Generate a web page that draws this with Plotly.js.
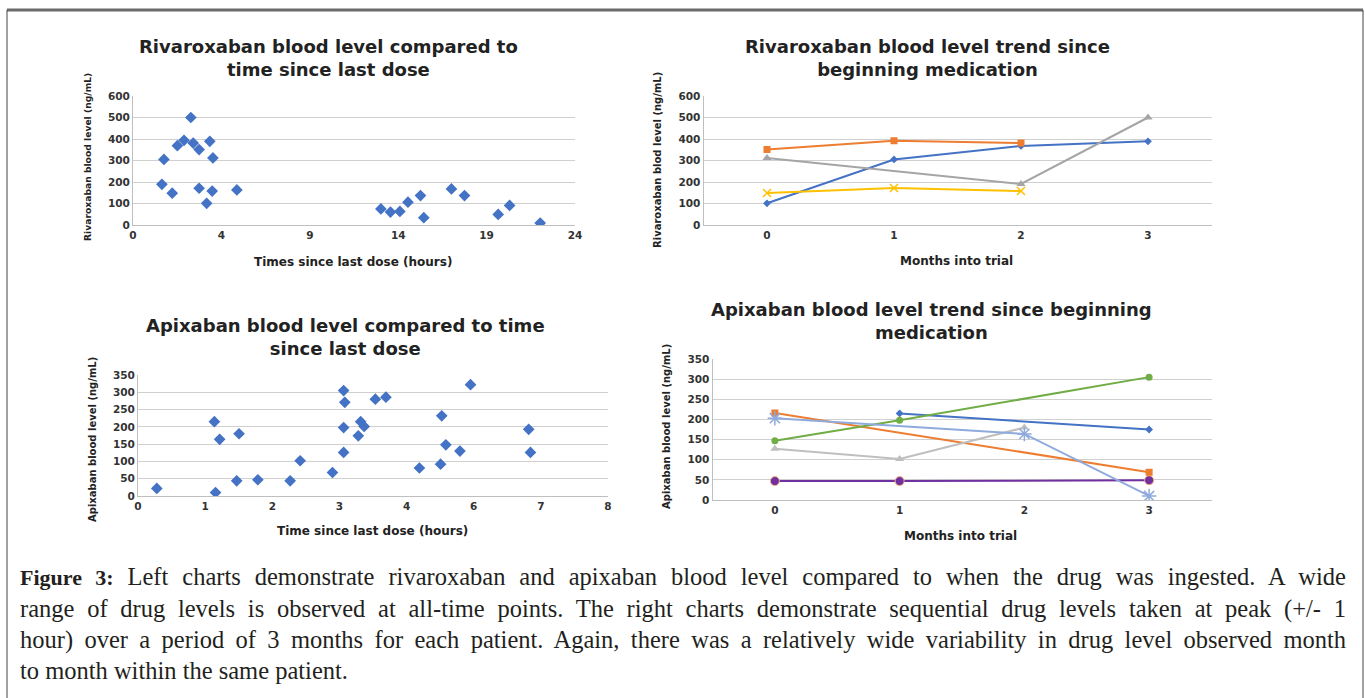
<!DOCTYPE html>
<html>
<head>
<meta charset="utf-8">
<script src="https://cdn.plot.ly/plotly-3.0.1.min.js"></script>
<style>
  html, body { margin: 0; padding: 0; background: #ffffff; }
  #wrap { position: relative; width: 1365px; height: 698px; overflow: hidden; }
  #chart { position: absolute; left: 0; top: 0; width: 1365px; height: 698px; }
  #caption {
    position: absolute; left: 20px; top: 561px; width: 1326px;
    font-family: "Liberation Serif", "DejaVu Serif", serif; font-size: 24.5px; line-height: 31px;
    color: #231f20;
  }
  #caption b { font-size: 22px; }
  #caption .jl { text-align: justify; text-align-last: justify; }
  #caption .ll { text-align: left; }
</style>
</head>
<body>
<div id="wrap">
  <div id="chart"></div>
  <div id="caption">
    <div class="jl"><b>Figure 3:</b> Left charts demonstrate rivaroxaban and apixaban blood level compared to when the drug was ingested. A wide</div>
    <div class="jl">range of drug levels is observed at all-time points. The right charts demonstrate sequential drug levels taken at peak (+/- 1</div>
    <div class="jl">hour) over a period of 3 months for each patient. Again, there was a relatively wide variability in drug level observed month</div>
    <div class="ll">to month within the same patient.</div>
  </div>
</div>
<script>
// ---- Data ----
// Top-left: rivaroxaban level vs time since last dose (axis units 0-24)
const rivTime  = [1.57, 1.68, 2.13, 2.41, 2.77, 3.14, 3.27, 3.59, 3.59, 4.0, 4.17, 4.30, 4.34, 5.64,
                  13.46, 13.98, 14.49, 14.93, 15.61, 15.79, 17.29, 18.0, 19.83, 20.45, 22.11];
const rivLevel = [189, 305, 148, 369, 394, 500, 381, 351, 171, 101, 389, 158, 312, 163,
                  75, 60, 63, 106, 137, 34, 168, 137, 49, 91, 9];
const rivTickVals = [0, 4.8, 9.6, 14.4, 19.2, 24];
const rivTickText = ["0", "4", "9", "14", "19", "24"];

// Top-right: rivaroxaban trend per patient
const months = [0, 1, 2, 3];
const rivPatientA = [101, 305, 368, 389];
const rivPatientB = [351, 392, 381, null];
const rivPatientC = [312, null, 191, 500];
const rivPatientD = [149, 172, 158, null];

// Bottom-left: apixaban level vs time since last dose (axis units 0-8)
const apxTime  = [0.32, 1.30, 1.32, 1.39, 1.68, 1.72, 2.04, 2.59, 2.76, 3.31, 3.50, 3.52, 3.50, 3.50,
                  3.75, 3.79, 3.85, 4.04, 4.22, 4.79, 5.15, 5.17, 5.24, 5.48, 5.66, 6.65, 6.68];
const apxLevel = [22, 215, 10, 164, 44, 180, 47, 44, 102, 68, 305, 271, 198, 126,
                  174, 215, 201, 280, 286, 81, 92, 232, 148, 130, 322, 193, 126];
const apxTickVals = [0, 8/7, 16/7, 24/7, 32/7, 40/7, 48/7, 8];
const apxTickText = ["0", "1", "2", "3", "4", "6", "7", "8"];

// Bottom-right: apixaban trend per patient
const apxPatientA = [null, 215, null, 175];
const apxPatientB = [216, null, null, 69];
const apxPatientC = [147, 198, null, 305];
const apxPatientD = [127, 102, 180, null];
const apxPatientE = [203, null, 164, 10];
const apxPatientF = [47, 47, null, 49];

// ---- Helpers ----
const W = 1365, H = 698;
const fx = px => px / W;
const fy = py => 1 - py / H;
const tickFont = {family: "DejaVu Sans", size: 10.5, color: "#333333", weight: "bold"};
const gridC = "#d0d0d0";

function xAxis(domain, extra) {
  return Object.assign({
    domain: domain, showgrid: false, zeroline: false, showline: true, linecolor: "#bfbfbf",
    linewidth: 1, ticks: "", tickfont: tickFont, fixedrange: true
  }, extra);
}
function yAxis(domain, anchor, extra) {
  return Object.assign({
    domain: domain, anchor: anchor, showgrid: true, gridcolor: gridC, gridwidth: 1,
    zeroline: false, showline: true, linecolor: "#bfbfbf", linewidth: 1, ticks: "",
    tickfont: tickFont, fixedrange: true
  }, extra);
}

const blue = "#4472C4", orange = "#ED7D31", gray = "#A5A5A5", yellow = "#FFC000",
      green = "#70AD47", lblue = "#8FAADC", purple = "#7030A0";

const traces = [
  {x: rivTime, y: rivLevel, xaxis: "x", yaxis: "y", type: "scatter", mode: "markers",
   marker: {symbol: "diamond", size: 9, color: blue}},

  {x: months, y: rivPatientA, xaxis: "x2", yaxis: "y2", type: "scatter", mode: "lines+markers", connectgaps: true,
   line: {color: blue, width: 2}, marker: {symbol: "diamond", size: 6, color: blue}},
  {x: months, y: rivPatientB, xaxis: "x2", yaxis: "y2", type: "scatter", mode: "lines+markers", connectgaps: true,
   line: {color: orange, width: 2}, marker: {symbol: "square", size: 7, color: orange}},
  {x: months, y: rivPatientC, xaxis: "x2", yaxis: "y2", type: "scatter", mode: "lines+markers", connectgaps: true,
   line: {color: gray, width: 2}, marker: {symbol: "triangle-up", size: 8, color: gray}},
  {x: months, y: rivPatientD, xaxis: "x2", yaxis: "y2", type: "scatter", mode: "lines+markers", connectgaps: true,
   line: {color: yellow, width: 2}, marker: {symbol: "x-thin-open", size: 8, color: yellow, line: {color: yellow, width: 1.5}}},

  {x: apxTime, y: apxLevel, xaxis: "x3", yaxis: "y3", type: "scatter", mode: "markers",
   marker: {symbol: "diamond", size: 9, color: blue}},

  {x: months, y: apxPatientF, xaxis: "x4", yaxis: "y4", type: "scatter", mode: "lines+markers", connectgaps: true,
   line: {color: purple, width: 2}, marker: {symbol: "circle", size: 9, color: purple, line: {color: "#F4B183", width: 1}}},
  {x: months, y: apxPatientA, xaxis: "x4", yaxis: "y4", type: "scatter", mode: "lines+markers", connectgaps: true,
   line: {color: blue, width: 2}, marker: {symbol: "diamond", size: 6, color: blue}},
  {x: months, y: apxPatientB, xaxis: "x4", yaxis: "y4", type: "scatter", mode: "lines+markers", connectgaps: true,
   line: {color: orange, width: 2}, marker: {symbol: "square", size: 7, color: orange}},
  {x: months, y: apxPatientC, xaxis: "x4", yaxis: "y4", type: "scatter", mode: "lines+markers", connectgaps: true,
   line: {color: green, width: 2}, marker: {symbol: "circle", size: 7, color: green}},
  {x: months, y: apxPatientD, xaxis: "x4", yaxis: "y4", type: "scatter", mode: "lines+markers", connectgaps: true,
   line: {color: "#BFBFBF", width: 2}, marker: {symbol: "triangle-up", size: 8, color: "#BFBFBF"}},
  {x: months, y: apxPatientE, xaxis: "x4", yaxis: "y4", type: "scatter", mode: "lines+markers", connectgaps: true,
   line: {color: lblue, width: 2}, marker: {symbol: "asterisk-open", size: 12, color: lblue, line: {color: lblue, width: 1.5}}}
];

const titleFont = {family: "DejaVu Sans", size: 18, color: "#222222", weight: "bold"};
const xTitleFont = {family: "DejaVu Sans", size: 12, color: "#222222", weight: "bold"};
const yTitleFont = s => ({family: "DejaVu Sans", size: s, color: "#222222", weight: "bold"});

function ann(text, xpx, ypx, font, angle) {
  return {text: text, xref: "paper", yref: "paper", x: fx(xpx), y: fy(ypx), xanchor: "center", yanchor: "middle",
          showarrow: false, font: font, textangle: angle || 0, align: "center"};
}

const layout = {
  width: W, height: H, margin: {l: 0, r: 0, t: 0, b: 0},
  paper_bgcolor: "#ffffff", plot_bgcolor: "#ffffff", showlegend: false,
  xaxis:  xAxis([fx(133), fx(575)], {anchor: "y", range: [0, 24], tickvals: rivTickVals, ticktext: rivTickText}),
  yaxis:  yAxis([fy(225), fy(96)], "x", {range: [0, 600], dtick: 100}),
  xaxis2: xAxis([fx(703.5), fx(1211.5)], {anchor: "y2", range: [-0.5, 3.5], tickvals: months}),
  yaxis2: yAxis([fy(225), fy(96)], "x2", {range: [0, 600], dtick: 100}),
  xaxis3: xAxis([fx(138), fx(608)], {anchor: "y3", range: [0, 8], tickvals: apxTickVals, ticktext: apxTickText}),
  yaxis3: yAxis([fy(496), fy(375)], "x3", {range: [0, 350], dtick: 50}),
  xaxis4: xAxis([fx(712.5), fx(1211.5)], {anchor: "y4", range: [-0.5, 3.5], tickvals: months}),
  yaxis4: yAxis([fy(500), fy(359)], "x4", {range: [0, 350], dtick: 50}),
  annotations: [
    ann("Rivaroxaban blood level compared to<br>time since last dose", 328, 58, titleFont),
    ann("Rivaroxaban blood level trend since<br>beginning medication", 927, 58, titleFont),
    ann("Apixaban blood level compared to time<br>since last dose", 345, 337, titleFont),
    ann("Apixaban blood level trend since beginning<br>medication", 931, 321, titleFont),
    ann("Times since last dose (hours)", 353, 262, xTitleFont),
    ann("Months into trial", 957, 261, xTitleFont),
    ann("Time since last dose (hours)", 373, 531, xTitleFont),
    ann("Months into trial", 960, 536, xTitleFont),
    ann("Rivaroxaban blood level (ng/mL)", 87, 157, yTitleFont(9.2), -90),
    ann("Rivaroxaban blod level (ng/mL)", 657, 160, yTitleFont(10), -90),
    ann("Apixaban blood level (ng/mL)", 92, 440, yTitleFont(10), -90),
    ann("Apixaban blood level (ng/mL)", 666, 427, yTitleFont(10), -90)
  ],
  shapes: [
    {type: "line", xref: "paper", yref: "paper", x0: fx(7), x1: fx(1363), y0: fy(10), y1: fy(10), line: {color: "#6b6b6b", width: 3}},
    {type: "line", xref: "paper", yref: "paper", x0: fx(7), x1: fx(7), y0: fy(10), y1: fy(698), line: {color: "#444444", width: 1}},
    {type: "line", xref: "paper", yref: "paper", x0: fx(1363), x1: fx(1363), y0: fy(10), y1: fy(698), line: {color: "#444444", width: 1}}
  ]
};

Plotly.newPlot("chart", traces, layout, {staticPlot: true, displayModeBar: false});
</script>
</body>
</html>
